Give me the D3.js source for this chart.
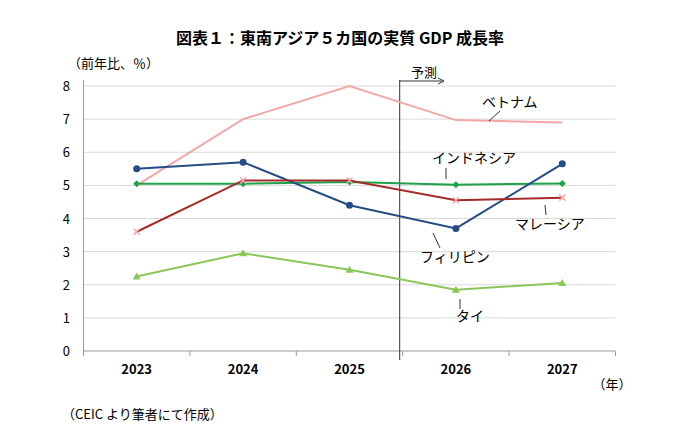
<!DOCTYPE html><html><head><meta charset="utf-8"><script src="https://cdn.jsdelivr.net/npm/d3@7"></script>
<style>body{margin:0;background:#fff}text{font-family:"Noto Sans CJK JP",sans-serif}</style></head><body><svg id="c" width="680" height="447"></svg>
<script>
const years=["2023","2024","2025","2026","2027"];
const vietnam=[5.0,7.0,8.0,6.97,6.9];
const indonesia=[5.05,5.05,5.1,5.02,5.06];
const philippines=[5.5,5.7,4.4,3.7,5.65];
const malaysia=[3.6,5.15,5.15,4.55,4.63];
const thailand=[2.25,2.95,2.45,1.85,2.05];
const yTicks=[0,1,2,3,4,5,6,7,8];
const series=[
 {name:"ベトナム",v:vietnam,c:"#f2a8a6",m:"none"},
 {name:"インドネシア",v:indonesia,c:"#1fa24a",m:"diamond"},
 {name:"フィリピン",v:philippines,c:"#254c84",m:"circle"},
 {name:"マレーシア",v:malaysia,c:"#a52a2a",m:"x"},
 {name:"タイ",v:thailand,c:"#8cc65a",m:"triangle"}];
const svg=d3.select("#c");
const x=d3.scaleBand().domain(years).range([83.5,615.5]);
const y=d3.scaleLinear().domain([0,8]).range([351,86]);
const cx=d=>x(d)+x.bandwidth()/2;
svg.append("text").attr("x",340).attr("y",44).attr("text-anchor","middle").attr("font-size",16).attr("font-weight","bold").text("図表１：東南アジア５カ国の実質 GDP 成長率");
svg.append("text").attr("x",68).attr("y",68).attr("font-size",13).text("（前年比、％）");
yTicks.forEach(t=>{ if(t>0) svg.append("line").attr("x1",83.5).attr("x2",615.5).attr("y1",y(t)).attr("y2",y(t)).attr("stroke","#d9d9d9");
 svg.append("text").attr("x",70).attr("y",y(t)+5).attr("text-anchor","end").attr("font-size",13).text(t);});
svg.append("line").attr("x1",83.5).attr("x2",83.5).attr("y1",80).attr("y2",351).attr("stroke","#999");
svg.append("line").attr("x1",83.5).attr("x2",615.5).attr("y1",351).attr("y2",351).attr("stroke","#999");
[0,1,2,3,4,5].forEach(i=>svg.append("line").attr("x1",83.5+i*x.bandwidth()).attr("x2",83.5+i*x.bandwidth()).attr("y1",351).attr("y2",356).attr("stroke","#999"));
years.forEach(d=>svg.append("text").attr("x",cx(d)).attr("y",374).attr("text-anchor","middle").attr("font-size",13).attr("font-weight","bold").text(d));
svg.append("text").attr("x",612).attr("y",389).attr("text-anchor","middle").attr("font-size",13).text("（年）");
svg.append("text").attr("x",62).attr("y",419).attr("font-size",13).text("（CEIC より筆者にて作成）");
const fx=x("2026")-3;
svg.append("line").attr("x1",fx).attr("x2",fx).attr("y1",80).attr("y2",360).attr("stroke","#333");
svg.append("line").attr("x1",fx).attr("x2",442).attr("y1",81).attr("y2",81).attr("stroke","#333");
svg.append("path").attr("d","M438,78L444,81L438,84").attr("fill","none").attr("stroke","#333");
svg.append("text").attr("x",411).attr("y",77).attr("font-size",13).text("予測");
const line=d3.line().x((d,i)=>cx(years[i])).y(d=>y(d));
series.forEach(s=>{
 svg.append("path").attr("d",line(s.v)).attr("fill","none").attr("stroke",s.c).attr("stroke-width",2);
 s.v.forEach((v,i)=>{const px=cx(years[i]),py=y(v);
  if(s.m==="circle")svg.append("circle").attr("cx",px).attr("cy",py).attr("r",3.5).attr("fill",s.c);
  else if(s.m==="diamond")svg.append("path").attr("d",`M${px},${py-3.5}L${px+3.5},${py}L${px},${py+3.5}L${px-3.5},${py}Z`).attr("fill",s.c);
  else if(s.m==="triangle")svg.append("path").attr("d",`M${px},${py-4}L${px+4},${py+3}L${px-4},${py+3}Z`).attr("fill",s.c);
  else if(s.m==="x")svg.append("path").attr("d",`M${px-3},${py-3}L${px+3},${py+3}M${px+3},${py-3}L${px-3},${py+3}`).attr("stroke","#f2a8a6").attr("stroke-width",1.5);
 });});
const labels=[["ベトナム",482,107],["インドネシア",432,163],["フィリピン",420,262],["マレーシア",515,229],["タイ",456,321]];
labels.forEach(([t,tx,ty])=>svg.append("text").attr("x",tx).attr("y",ty).attr("font-size",14).text(t));
const arrows=[[500,111,489,121],[446,168,446,179],[440,248,433,233],[546,215,545,205],[460,309,460,299]];
arrows.forEach(([x1,y1,x2,y2])=>{svg.append("line").attr("x1",x1).attr("y1",y1).attr("x2",x2).attr("y2",y2).attr("stroke","#333");});
</script></body></html>
